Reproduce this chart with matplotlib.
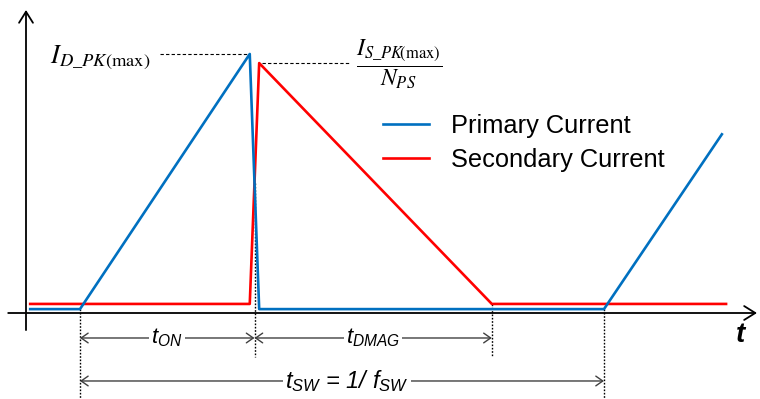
import numpy as np
import matplotlib
matplotlib.use("Agg")
from matplotlib import pyplot as plt

plt.rcParams['font.family'] = ['Liberation Sans', 'DejaVu Sans']
plt.rcParams['mathtext.fontset'] = 'custom'
plt.rcParams['mathtext.rm'] = 'Liberation Sans'
plt.rcParams['mathtext.it'] = 'Liberation Sans:italic'
plt.rcParams['mathtext.bf'] = 'Liberation Sans:bold'

# flyback DCM waveforms (time in us, current normalised to primary peak)
primary_t = [0.08, 1.03, 4.27, 4.45, 11.03, 13.28]
primary_i = [0.015, 0.015, 1.00, 0.015, 0.015, 0.69]
secondary_t = [0.08, 4.27, 4.45, 8.89, 13.36]
secondary_i = [0.035, 0.035, 0.965, 0.035, 0.035]
series_names = ['Primary Current', 'Secondary Current']

BLUE = '#0070C0'
RED = '#FF0000'
DIM = '#404040'

# scale of the drawing
px_per_us = 52.4
px_per_a = 259.0
x0_px, y0_px = 26, 313
W, H = 760, 399

fig = plt.figure(figsize=(W / 100, H / 100), dpi=100)
ax = fig.add_axes([0, 0, 1, 1])
ax.set_xlim(-x0_px / px_per_us, (W - x0_px) / px_per_us)
ax.set_ylim(-(H - y0_px) / px_per_a, y0_px / px_per_a)
ax.axis('off')

# axes with open arrow heads
axis_arrow = dict(arrowstyle='->,head_length=0.8,head_width=0.5', lw=1.3,
                  color='black', shrinkA=0, shrinkB=0, mutation_scale=10)
ax.annotate('', xy=(0, 1.17), xytext=(0, -0.066), arrowprops=axis_arrow)
ax.annotate('', xy=(13.95, 0), xytext=(-0.34, 0), arrowprops=axis_arrow)
ax.text(13.63, -0.085, 't', fontsize=20, fontweight='bold', fontstyle='italic',
        ha='center', va='center')

# waveforms
ax.plot(secondary_t, secondary_i, color=RED, lw=1.9, label=series_names[1], zorder=3)
ax.plot(primary_t, primary_i, color=BLUE, lw=1.9, label=series_names[0], zorder=4)

# switching instants
t_on = primary_t[1]
t_dmag_end = secondary_t[3]
t_next = primary_t[4]
# where the falling primary meets the rising secondary
p1, p2 = np.array([primary_t[2], primary_i[2]]), np.array([primary_t[3], primary_i[3]])
s1, s2 = np.array([secondary_t[1], secondary_i[1]]), np.array([secondary_t[2], secondary_i[2]])
A = np.column_stack([p2 - p1, s1 - s2])
u, _ = np.linalg.solve(A, s1 - p1)
t_cross, i_cross = p1 + u * (p2 - p1)

y_bottom = ax.get_ylim()[0]
dotted = dict(color='black', lw=1.0, ls=(0, (1.2, 1.2)), zorder=2)
ax.plot([t_on, t_on], [primary_i[1], y_bottom], **dotted)
ax.plot([t_cross, t_cross], [i_cross, -0.17], **dotted)
ax.plot([t_dmag_end, t_dmag_end], [secondary_i[3], -0.17], **dotted)
ax.plot([t_next, t_next], [primary_i[4], y_bottom], **dotted)

# peak leaders
dashed = dict(color='black', lw=0.8, ls=(0, (3, 2)))
ax.plot([2.56, primary_t[2]], [primary_i[2]] * 2, **dashed)
ax.plot([secondary_t[2] + 0.06, 6.18], [secondary_i[2]] * 2, **dashed)

ax.text(2.37, 0.965, r'$I_{D\_PK(\mathrm{max})}$', math_fontfamily='stix',
        fontsize=19, ha='right', va='baseline')
ax.text(7.12, 0.96, r'$\dfrac{I_{S\_PK\!(\mathrm{max})}}{N_{PS}}$', math_fontfamily='stix',
        fontsize=17, ha='center', va='center')

# dimension lines
dim_arrow = dict(arrowstyle='<->,head_length=0.5,head_width=0.35', lw=1.0,
                 color=DIM, shrinkA=0, shrinkB=0, mutation_scale=10)
label_box = dict(facecolor='white', edgecolor='none', pad=1.5)
y_on = -0.0965
y_sw = -0.2625
ax.annotate('', xy=(t_cross, y_on), xytext=(t_on, y_on), arrowprops=dim_arrow)
ax.annotate('', xy=(t_dmag_end, y_on), xytext=(t_cross, y_on), arrowprops=dim_arrow)
ax.annotate('', xy=(t_next, y_sw), xytext=(t_on, y_sw), arrowprops=dim_arrow)
ax.text((t_on + t_cross) / 2, y_on, r'$t_{ON}$', fontsize=16,
        ha='center', va='center', bbox=label_box)
ax.text((t_cross + t_dmag_end) / 2, y_on, r'$t_{DMAG}$', fontsize=16,
        ha='center', va='center', bbox=label_box)
ax.text((t_on + t_next) / 2 + 0.1, y_sw, r'$t_{SW}$ = 1/ $f_{SW}$', fontsize=17,
        fontstyle='italic', ha='center', va='center', bbox=label_box)

handles, labels = ax.get_legend_handles_labels()
ax.legend(handles[::-1], labels[::-1], loc='upper left', frameon=False,
          bbox_to_anchor=(383 / W, 1 - 114 / H), fontsize=18.3,
          borderpad=0, borderaxespad=0, handlelength=1.8, handletextpad=0.87,
          labelspacing=0.38)

fig.savefig('out.png', dpi=100)
